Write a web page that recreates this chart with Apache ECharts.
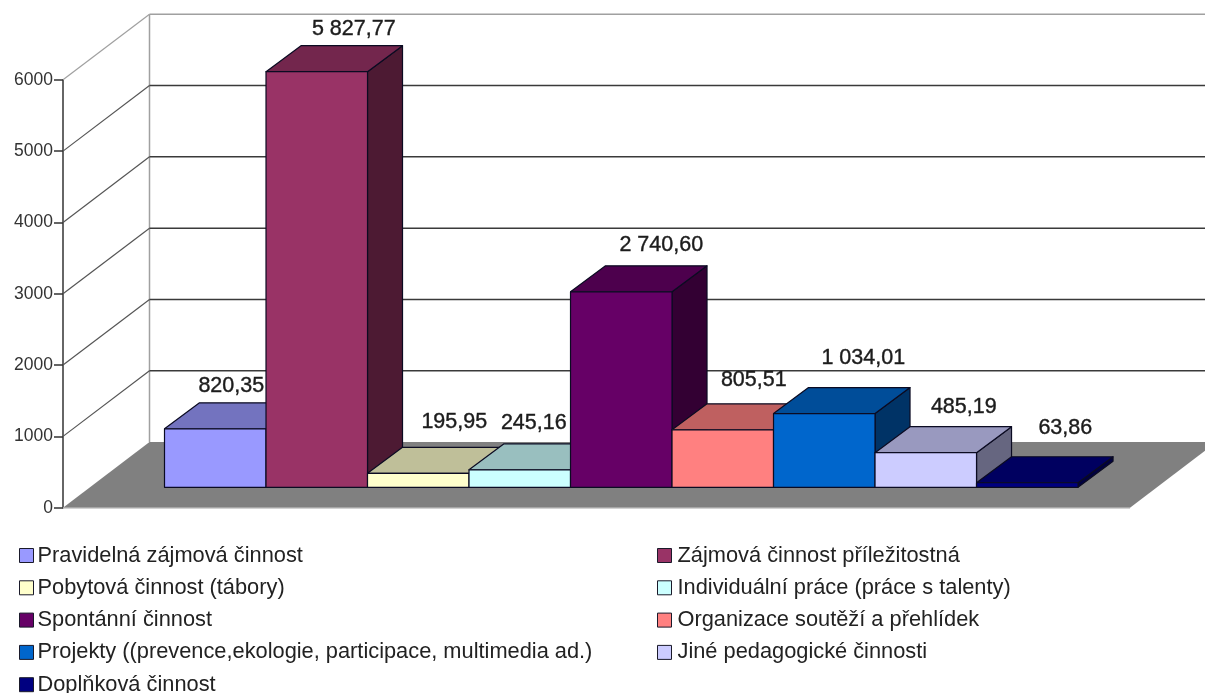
<!DOCTYPE html>
<html>
<head>
<meta charset="utf-8">
<style>html,body{margin:0;padding:0;background:#fff}#c{width:1205px;height:693px}</style>
<script src="https://cdn.jsdelivr.net/npm/echarts@6/dist/echarts.min.js"></script>
</head>
<body>
<div id="c"></div>
<script>
var categories = ['Pravidelná zájmová činnost','Zájmová činnost příležitostná','Pobytová činnost (tábory)','Individuální práce (práce s talenty)','Spontánní činnost','Organizace soutěží a přehlídek','Projekty ((prevence,ekologie, participace, multimedia ad.)','Jiné pedagogické činnosti','Doplňková činnost'];
var values = [820.35,5827.77,195.95,245.16,2740.60,805.51,1034.01,485.19,63.86];
var frontColors = ['#9999ff','#993366','#ffffcc','#ccffff','#660066','#ff8080','#0066cc','#ccccff','#000080'];
var topColors   = ['#7373bf','#73264d','#bfbf99','#99bfbf','#4d004d','#bf6060','#004d99','#9999bf','#000060'];
var sideColors  = ['#4d4d80','#4d1a33','#808066','#668080','#330033','#804040','#003366','#666680','#000040'];
var yTicks = [0,1000,2000,3000,4000,5000,6000];
var legendLeft = [0,2,4,6,8].map(function(i){return categories[i];});
var legendRight = [1,3,5,7].map(function(i){return categories[i];});
// label nudges in pixels relative to the centre of the bar's back top edge
var labelNudge = [[-19,-17],[2,-17],[1,-25],[-21,-21],[5,-21],[-4,-24],[4,-29],[3,-20],[3,-29]];

var X_MIN = -0.735, X_MAX = 9.777;
var WALL_DX = 86.5, WALL_DY = -65.6;
var BAR_DX = 26.9, BAR_DY = -20.4;
var DEPTH_DX = 35, DEPTH_DY = -26;
var FONT = '"Liberation Sans", Arial, sans-serif';

function fmt(v){
  var p = v.toFixed(2).split('.');
  return p[0].replace(/\B(?=(\d{3})+$)/g,' ') + ',' + p[1];
}
function wallItem(params, api){
  var v = api.value(1);
  var f = api.coord([X_MIN, v]), r = api.coord([X_MAX, v]);
  var bl = [f[0]+WALL_DX, f[1]+WALL_DY], br = [r[0]+WALL_DX, r[1]+WALL_DY];
  var kids = [];
  if (v === 0) {
    kids.push({type:'polygon', shape:{points:[f,r,br,bl]}, style:{fill:'#808080', stroke:null}});
    kids.push({type:'line', shape:{x1:f[0],y1:f[1],x2:r[0],y2:r[1]}, style:{stroke:'#a6a6a6',lineWidth:1.5}});
    var t = api.coord([X_MIN, yTicks[yTicks.length-1]]);
    kids.push({type:'line', shape:{x1:bl[0],y1:bl[1],x2:t[0]+WALL_DX,y2:t[1]+WALL_DY}, style:{stroke:'#a0a0a0',lineWidth:1.5}});
  } else {
    var top = v === yTicks[yTicks.length-1];
    var col = top ? '#a0a0a0' : '#3a3a3a';
    kids.push({type:'line', shape:{x1:f[0],y1:f[1],x2:bl[0],y2:bl[1]}, style:{stroke:top?'#a0a0a0':'#555',lineWidth:1.2}});
    kids.push({type:'line', shape:{x1:bl[0],y1:bl[1],x2:br[0],y2:br[1]}, style:{stroke:col,lineWidth:1.5}});
  }
  return {type:'group', children:kids};
}
function barItem(params, api){
  var i = api.value(0), v = api.value(1);
  var a = api.coord([i,0]), b = api.coord([i+1,v]);
  var x0=a[0]+BAR_DX, x1=b[0]+BAR_DX, y0=a[1]+BAR_DY, y1=b[1]+BAR_DY;
  var dx=DEPTH_DX, dy=DEPTH_DY, idx=i;
  var st = function(c){return {fill:c, stroke:'#0b0b22', lineWidth:1.2, lineJoin:'round'};};
  return {type:'group', children:[
    {type:'polygon', shape:{points:[[x1,y1],[x1+dx,y1+dy],[x1+dx,y0+dy],[x1,y0]]}, style:st(sideColors[idx])},
    {type:'polygon', shape:{points:[[x0,y1],[x0+dx,y1+dy],[x1+dx,y1+dy],[x1,y1]]}, style:st(topColors[idx])},
    {type:'polygon', shape:{points:[[x0,y0],[x0,y1],[x1,y1],[x1,y0]]}, style:st(frontColors[idx])}
  ]};
}
function labelItem(params, api){
  var i = api.value(0), v = api.value(1);
  var a = api.coord([i+0.5,v]), n = labelNudge[i];
  return {type:'text', style:{
    x:a[0]+BAR_DX+DEPTH_DX+n[0], y:a[1]+BAR_DY+DEPTH_DY+n[1],
    text:fmt(v), align:'center', verticalAlign:'middle',
    fill:'#1c1c1c', stroke:'#1c1c1c', lineWidth:0.4, font:'21.5px '+FONT
  }};
}
var series = [{
  type:'custom', name:'__walls', silent:true, renderItem:wallItem,
  data:yTicks.map(function(t){return [X_MIN,t];}), encode:{x:0,y:1}
}];
categories.forEach(function(name,i){
  series.push({type:'custom', name:name, silent:true, renderItem:barItem,
    itemStyle:{color:frontColors[i]}, data:[[i,values[i]]], encode:{x:0,y:1}});
});
series.push({type:'custom', name:'__labels', silent:true, renderItem:labelItem,
  data:values.map(function(v,i){return [i,v];}), encode:{x:0,y:1}});

function legendOf(names,left,textPad){
  return {orient:'vertical', left:left, top:544, height:200, padding:0, itemWidth:14, itemHeight:14, itemGap:9.3, selectedMode:false,
    icon:'rect', textStyle:{fontFamily:FONT, fontSize:21.8, color:'#222', padding:[0,0,0,textPad], lineHeight:23},
    data:names.map(function(n){var i=categories.indexOf(n);
      return {name:n, icon:'rect', itemStyle:{color:frontColors[i],borderColor:'#1a1a2a',borderWidth:1}};})};
}
var chart = echarts.init(document.getElementById('c'),null,{renderer:'canvas'});
chart.setOption({
  animation:false, backgroundColor:'#ffffff',
  grid:{left:63,top:79.8,width:1067,height:427.9,containLabel:false},
  xAxis:{type:'value',min:X_MIN,max:X_MAX,show:false},
  yAxis:{type:'value',min:0,max:6000,interval:1000,
    axisLine:{show:true,onZero:false,lineStyle:{color:'#333',width:1.5}},
    axisTick:{show:true,length:9,lineStyle:{color:'#333',width:1.5}},
    axisLabel:{fontFamily:FONT,fontSize:17.5,color:'#333',margin:10,padding:[3,0,0,0],formatter:function(v){return String(v);}},
    splitLine:{show:false}},
  legend:[legendOf(legendLeft,19,-1),legendOf(legendRight,657,1)],
  series:series
});
</script>
</body>
</html>
